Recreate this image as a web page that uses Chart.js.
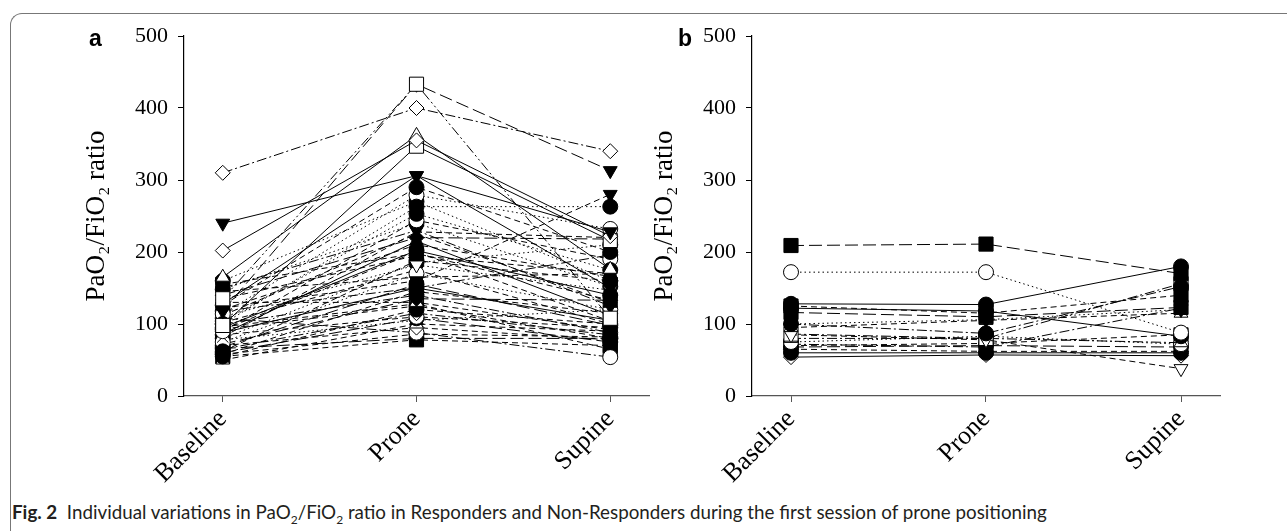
<!DOCTYPE html>
<html lang="en">
<head>
<meta charset="UTF-8">
<title>PaO2/FiO2 ratio - Responders and Non-Responders</title>
<style>
    body {
        margin: 0;
        width: 1287px;
        height: 531px;
        overflow: hidden;
        position: relative;
        background: #fff;
    }
    .frame {
        position: absolute;
        left: 10px;
        top: 13px;
        width: 1400px;
        height: 600px;
        border-top: 1.5px solid #777;
        border-left: 1.5px solid #777;
        border-top-left-radius: 12px;
    }
    canvas {
        position: absolute;
        top: 0;
    }
    #chartA { left: 0; }
    #chartB { left: 568px; }
    .tag {
        position: absolute;
        top: 25px;
        font-family: "Liberation Sans", Arial, sans-serif;
        font-weight: bold;
        font-size: 23px;
        color: #000;
    }
    .caption {
        position: absolute;
        left: 12px;
        top: 500px;
        font-family: Lato, sans-serif;
        font-size: 18.8px;
        color: #231f20;
        white-space: nowrap;
    }
    .caption sub { font-size: 12px; }
</style>
</head>
<body>
    <div class="frame"></div>
    <canvas id="chartA" width="660" height="500"></canvas>
    <canvas id="chartB" width="663" height="500"></canvas>
    <div class="tag" style="left:89px">a</div>
    <div class="tag" style="left:678px">b</div>
    <div class="caption"><b>Fig. 2</b>&nbsp; Individual variations in PaO<sub>2</sub>/FiO<sub>2</sub> ratio in Responders and Non-Responders during the first session of prone positioning</div>

    <script src="https://cdn.jsdelivr.net/npm/chart.js"></script>
    <script>
        const categories = ['Baseline', 'Prone', 'Supine'];
        const yTicks = [0, 100, 200, 300, 400, 500];

        // panel a - responders (one entry per patient)
        const respBaseline = [310, 240, 202, 135, 118, 98, 165, 128, 122, 100, 126, 114, 104, 90, 82, 140, 120, 95, 110, 150,
                              155, 62, 75, 145, 68, 88, 58, 100, 72, 130, 93, 55, 65, 85, 60, 78, 50, 70, 108, 58,
                              66, 55, 92, 112, 80, 135, 118, 96, 148, 102, 86, 160];
        const respProne    = [400, 306, 355, 433, 433, 347, 362, 306, 160, 263, 290, 279, 253, 244, 228, 220, 210, 202, 182, 230,
                              198, 188, 170, 165, 155, 150, 145, 140, 135, 130, 125, 120, 115, 110, 108, 105, 100, 95, 88, 86,
                              80, 78, 200, 225, 185, 195, 150, 128, 240, 175, 215, 270];
        const respSupine   = [340, 228, 222, 108, 313, 216, 176, 150, 280, 263, 200, 232, 175, 190, 220, 218, 166, 140, 147, 125,
                              133, 160, 120, 170, 98, 105, 115, 88, 133, 92, 80, 100, 85, 95, 75, 120, 90, 78, 54, 82,
                              80, 70, 104, 130, 210, 170, 196, 65, 152, 100, 112, 160];
        const respMarker   = ['rectRot', 'triDown', 'rectRot', 'rect', 'triDown', 'rect', 'triangle', 'triDown', 'triDown', 'circle',
                              'circle', 'circle', 'circle', 'circle', 'crossRot', 'rectRot', 'triangle', 'circle', 'triDown', 'triDown',
                              'rect', 'circle', 'circle', 'triangle', 'circle', 'rect', 'rectRot', 'circle', 'rectRot', 'triangle',
                              'circle', 'circle', 'rectRot', 'circle', 'circle', 'triangle', 'triangle', 'rectRot', 'circle', 'circle',
                              'circle', 'rect', 'rectRot', 'crossRot', 'circle', 'triangle', 'circle', 'rect', 'circle', 'triDown',
                              'triangle', 'circle'];
        const respFilled   = [0, 1, 0, 0, 1, 0, 0, 1, 1, 1, 1, 0, 1, 0, 0, 1, 1, 1, 0, 1,
                              1, 1, 0, 1, 1, 1, 1, 1, 1, 0, 1, 1, 0, 0, 1, 1, 0, 0, 0, 1,
                              1, 1, 1, 0, 1, 1, 1, 0, 1, 1, 1, 1];
        const respLine     = ['dashdot', 'solid', 'solid', 'dashdotdot', 'long', 'solid', 'solid', 'solid', 'dash', 'dot',
                              'dash', 'dot', 'dot', 'dash', 'dash', 'long', 'dash', 'solid', 'dot', 'dashdot',
                              'dash', 'dash', 'dot', 'dash', 'long', 'solid', 'dash', 'dashdot', 'long', 'dash',
                              'dash', 'dash', 'dashdot', 'dash', 'long', 'dot', 'dash', 'dash', 'dashdot', 'dash',
                              'long', 'dash', 'dash', 'dash', 'dot', 'dash', 'dashdot', 'dash', 'dot', 'dash',
                              'solid', 'dot'];

        // panel b - non-responders
        const nonBaseline = [209, 172, 128, 122, 125, 116, 100, 100, 95, 85, 86, 80, 75, 70, 68, 65, 60, 54, 72];
        const nonProne    = [211, 172, 127, 118, 115, 110, 106, 87, 105, 78, 80, 80, 83, 73, 70, 62, 60, 57, 68];
        const nonSupine   = [170, 88, 180, 83, 140, 123, 120, 152, 115, 38, 156, 74, 72, 85, 68, 62, 60, 56, 122];
        const nonMarker   = ['rect', 'circle', 'circle', 'circle', 'rect', 'rect', 'triDown', 'circle', 'triangle', 'triDown',
                             'rect', 'triangle', 'circle', 'rect', 'circle', 'rectRot', 'circle', 'rectRot', 'triDown'];
        const nonFilled   = [1, 0, 1, 1, 1, 1, 1, 1, 0, 0, 0, 0, 0, 1, 1, 1, 1, 0, 1];
        const nonLine     = ['long', 'dot', 'solid', 'solid', 'dash', 'long', 'dot', 'dashdot', 'dash', 'dash',
                             'dashdot', 'dashdot', 'dot', 'dash', 'long', 'dash', 'solid', 'solid', 'dashdot'];

        const dashes = {
            solid: [],
            dash: [6, 4],
            long: [13, 5],
            dot: [1.5, 3],
            dashdot: [10, 3, 2, 3],
            dashdotdot: [10, 3, 2, 3, 2, 3]
        };

        // marker radius per shape, so squares and diamonds come out about the same size as circles
        const markerRadius = { rect: 10, rectRot: 7.5, circle: 7.5, triangle: 8, triDown: 8, crossRot: 8 };

        function buildDatasets(base, prone, supine, marker, filled, line) {
            return base.map((b, i) => ({
                data: [b, prone[i], supine[i]].map((v, k) => ({ x: k, y: v })),
                borderColor: '#000',
                borderWidth: 1,
                borderDash: dashes[line[i]],
                pointStyle: marker[i] === 'triDown' ? 'triangle' : marker[i],
                pointRotation: marker[i] === 'triDown' ? 180 : 0,
                pointRadius: markerRadius[marker[i]],
                pointBackgroundColor: filled[i] ? '#000' : '#fff',
                pointBorderColor: '#000',
                pointBorderWidth: 1,
                tension: 0,
                fill: false
            }));
        }

        function createChart(canvasId, datasets) {
            const ctx = document.getElementById(canvasId).getContext('2d');
            return new Chart(ctx, {
                type: 'line',
                data: { datasets: datasets },
                options: {
                    responsive: false,
                    animation: false,
                    layout: { padding: { top: 36, right: 10, left: 0, bottom: 0 } },
                    plugins: { legend: { display: false }, tooltip: { enabled: false } },
                    scales: {
                        x: {
                            type: 'linear',
                            min: -0.2,
                            max: 2.2,
                            afterBuildTicks: s => { s.ticks = categories.map((c, i) => ({ value: i })); },
                            afterFit: s => { s.height = 104; },
                            ticks: {
                                autoSkip: false,
                                minRotation: 45,
                                maxRotation: 45,
                                padding: 2,
                                color: '#000',
                                font: { family: 'Liberation Serif', size: 26 },
                                callback: v => categories[v]
                            },
                            grid: { drawOnChartArea: false, drawTicks: true, tickLength: 6, color: '#555' },
                            border: { color: '#555', width: 1.2 }
                        },
                        y: {
                            min: 0,
                            max: 500,
                            afterBuildTicks: s => { s.ticks = yTicks.map(v => ({ value: v })); },
                            afterFit: s => { s.width = 184; },
                            ticks: {
                                padding: 10,
                                color: '#000',
                                font: { family: 'Liberation Serif', size: 22 }
                            },
                            grid: { drawOnChartArea: false, drawTicks: true, tickLength: 6, color: '#000' },
                            border: { color: '#000', width: 1.2 },
                            title: {
                                display: true,
                                text: 'PaO₂/FiO₂ ratio',
                                color: '#000',
                                font: { family: 'Liberation Serif', size: 27 },
                                padding: { top: 81, bottom: 0 }
                            }
                        }
                    }
                }
            });
        }

        createChart('chartA', buildDatasets(respBaseline, respProne, respSupine, respMarker, respFilled, respLine));
        createChart('chartB', buildDatasets(nonBaseline, nonProne, nonSupine, nonMarker, nonFilled, nonLine));
    </script>
</body>
</html>
